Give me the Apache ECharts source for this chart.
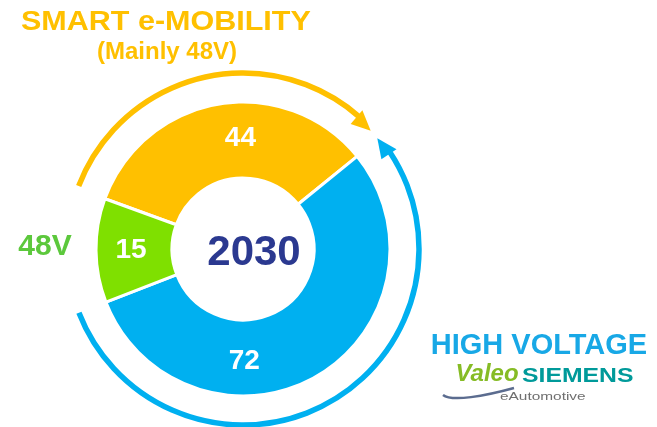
<!DOCTYPE html>
<html>
<head>
<meta charset="utf-8">
<script src="https://cdn.jsdelivr.net/npm/echarts@6/dist/echarts.min.js"></script>
<style>
  html, body { margin: 0; padding: 0; background: #fff; }
  #chart { width: 657px; height: 427px; }
</style>
</head>
<body>
<div id="chart"></div>
<script>
// data
const categories = ["SMART e-MOBILITY", "HIGH VOLTAGE", "48V"]
const values = [44, 72, 15]
const year = "2030"

const colors = ["#FFC000", "#00B0F0", "#7FE000"]
const font = "'Liberation Sans', Arial, sans-serif"

// donut geometry
const cx = 243, cy = 249
const startAngle = 160
const total = values.reduce((a, b) => a + b, 0)

// segment boundaries in math degrees (clockwise from startAngle)
const bounds = [startAngle]
values.forEach(v => bounds.push(bounds[bounds.length - 1] - v / total * 360))

const rad = d => d * Math.PI / 180
const pt = (r, deg) => [cx + r * Math.cos(rad(deg)), cy - r * Math.sin(rad(deg))]

const headDeg = 6.5
const orangeTip = bounds[1] + 3.7
const blueTip = bounds[1] + 0.4
const blueStart = bounds[2] + 360

const arrowHead = (r, tip, base, color) => ({
  type: "polygon",
  shape: { points: [pt(r, tip), pt(r + 9, base), pt(r - 9, base)] },
  style: { fill: color }
})

const labelShift = [[16, 0], [-55, 15], [0, 0]]

const chart = echarts.init(document.getElementById("chart"))
chart.setOption({
  animation: false,
  series: [{
    type: "pie",
    center: [cx, cy],
    radius: [71, 147],
    startAngle: startAngle,
    clockwise: true,
    itemStyle: { borderColor: "#fff", borderWidth: 3 },
    label: {
      show: true,
      position: "inside",
      formatter: "{c}",
      color: "#fff",
      fontSize: 28,
      fontWeight: "bold",
      fontFamily: font
    },
    labelLayout: (p) => ({ dx: labelShift[p.dataIndex][0], dy: labelShift[p.dataIndex][1] }),
    emphasis: { disabled: true },
    data: categories.map((name, i) => ({
      name: name,
      value: values[i],
      itemStyle: { color: colors[i] }
    }))
  }],
  graphic: [
    // outer arrows
    {
      type: "arc",
      shape: { cx: cx, cy: cy, r: 176, startAngle: rad(-(startAngle - 1)), endAngle: rad(-(orangeTip + headDeg - 0.5)), clockwise: true },
      style: { stroke: colors[0], lineWidth: 5.5, fill: "none" }
    },
    arrowHead(174, orangeTip, orangeTip + headDeg, colors[0]),
    {
      type: "arc",
      shape: { cx: cx, cy: cy, r: 176, startAngle: rad(-blueStart), endAngle: rad(-(360 + blueTip - headDeg + 0.5)), clockwise: false },
      style: { stroke: colors[1], lineWidth: 5.5, fill: "none" }
    },
    arrowHead(174, blueTip, blueTip - headDeg, colors[1]),

    // centre year
    {
      type: "text", x: 254, y: 253,
      style: { text: year, font: "bold 42px " + font, fill: "#2B3990", align: "center", verticalAlign: "middle" }
    },

    // titles
    {
      type: "text", x: 21, y: 23, scaleX: 1.13,
      style: { text: "SMART e-MOBILITY", font: "bold 27px " + font, fill: "#FFC000", align: "left", verticalAlign: "middle" }
    },
    {
      type: "text", x: 167, y: 52,
      style: { text: "(Mainly 48V)", font: "bold 24px " + font, fill: "#FFC000", align: "center", verticalAlign: "middle" }
    },
    {
      type: "text", x: 45, y: 247,
      style: { text: "48V", font: "bold 30px " + font, fill: "#5CC83C", align: "center", verticalAlign: "middle" }
    },
    {
      type: "text", x: 539, y: 346,
      style: { text: "HIGH VOLTAGE", font: "bold 29px " + font, fill: "#18A8E6", align: "center", verticalAlign: "middle" }
    },

    // logo
    {
      type: "bezierCurve",
      shape: { x1: 443, y1: 395, cpx1: 452, cpy1: 402, cpx2: 485, cpy2: 396, x2: 514, y2: 388 },
      style: { stroke: "#5B6C8F", lineWidth: 2.5, fill: "none" }
    },
    {
      type: "text", x: 487, y: 374,
      style: { text: "Valeo", font: "italic bold 24px " + font, fill: "#86BC25", align: "center", verticalAlign: "middle" }
    },
    {
      type: "text", x: 522, y: 376, scaleX: 1.18,
      style: { text: "SIEMENS", font: "bold 21px " + font, fill: "#009A9A", align: "left", verticalAlign: "middle" }
    },
    {
      type: "text", x: 500, y: 397, scaleX: 1.4,
      style: { text: "eAutomotive", font: "11px " + font, fill: "#6F6F6F", align: "left", verticalAlign: "middle" }
    }
  ]
})
</script>
</body>
</html>
